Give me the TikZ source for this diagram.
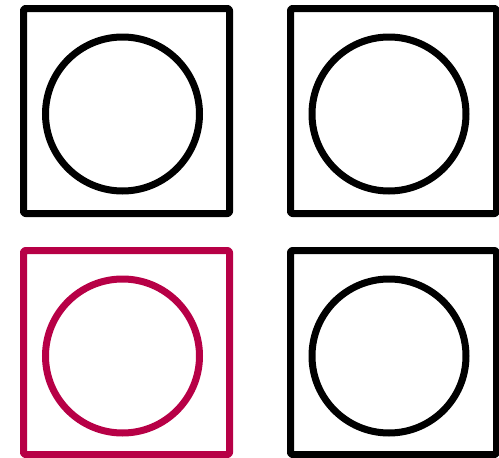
\documentclass[tikz,border=0pt]{standalone}
\definecolor{crim}{RGB}{183,0,70}
\begin{document}
\begin{tikzpicture}[x=1pt,y=-1pt,
  box/.style={line width=7pt,rounded corners=2pt,line join=round},
  ring/.style={line width=7pt}]
\useasboundingbox (0,0) rectangle (499,458);
% top-left
\draw[box] (23.5,8.5) rectangle (229.5,213.5);
\draw[ring] (122.5,114) circle[radius=77];
% top-right
\draw[box] (290.5,8.5) rectangle (496.5,213.5);
\draw[ring] (389,114) circle[radius=77];
% bottom-left
\draw[box,crim] (23.5,250.5) rectangle (229.5,454.5);
\draw[ring,crim] (122.5,356) circle[radius=77];
% bottom-right
\draw[box] (290.5,250.5) rectangle (496.5,454.5);
\draw[ring] (389,356) circle[radius=77];
\end{tikzpicture}
\end{document}
